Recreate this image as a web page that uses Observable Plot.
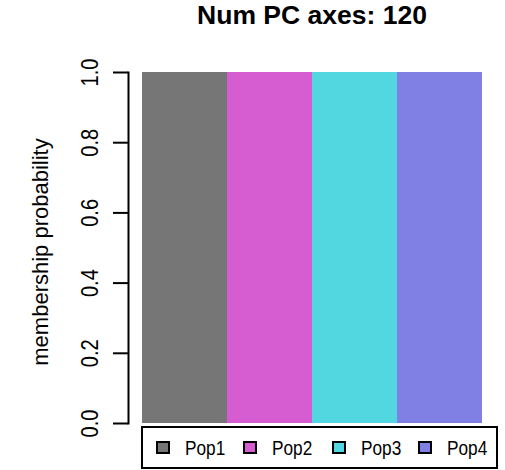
<!DOCTYPE html>
<html>
<head>
<meta charset="utf-8">
<script src="https://cdn.jsdelivr.net/npm/d3@7"></script>
<script src="https://cdn.jsdelivr.net/npm/@observablehq/plot@0.6"></script>
<style>
  html, body { margin: 0; padding: 0; background: #fff; }
  #wrap { position: relative; width: 505px; height: 470px; font-family: "Liberation Sans", Arial, sans-serif; }
  #title { position: absolute; left: 141px; width: 342px; top: -1px; text-align: center; font-weight: bold; font-size: 26.5px; line-height: 32px; color: #000; }
  #legend { position: absolute; left: 141px; top: 426px; width: 353px; height: 39px; border: 2px solid #000; }
  .item { position: absolute; top: 0; height: 39px; display: flex; align-items: center; font-size: 21px; color: #000; }
  .item span { display: inline-block; transform: scaleX(0.82); transform-origin: left center; }
  .sw { width: 10px; height: 9px; border: 2.5px solid #000; margin-right: 15px; }
  svg { position: absolute; left: 0; top: 0; }
</style>
</head>
<body>
<div id="wrap">
  <div id="title">Num PC axes: 120</div>
  <div id="legend"></div>
</div>
<script>
// Groups (one bar each) and populations (stacked segments)
const groups = ["Pop1", "Pop2", "Pop3", "Pop4"];
const pops = ["Pop1", "Pop2", "Pop3", "Pop4"];
const colors = ["#767676", "#D65CD1", "#52D6E0", "#807FE3"];
// Membership probability of each group (rows) for each population (columns)
const membership = [
  [1, 0, 0, 0],
  [0, 1, 0, 0],
  [0, 0, 1, 0],
  [0, 0, 0, 1]
];
const yTicks = [0, 0.2, 0.4, 0.6, 0.8, 1.0];
const yLabel = "membership probability";

const rows = groups.flatMap((g, i) => pops.map((p, j) => ({group: g, pop: p, prob: membership[i][j]})));
const fmt = d3.format(".1f");
const tickLabels = yTicks.map(fmt);

const chart = Plot.plot({
  width: 505,
  height: 470,
  marginTop: 72,
  marginBottom: 47,
  marginLeft: 128,
  marginRight: 22,
  style: {fontFamily: "Liberation Sans, Arial, sans-serif", background: "transparent"},
  x: {domain: groups, padding: 0, insetLeft: 13, axis: null},
  y: {domain: [0, 1], axis: null},
  color: {domain: pops, range: colors},
  marks: [
    Plot.barY(rows, Plot.stackY({x: "group", y: "prob", fill: "pop", order: pops})),
    // axis: line, ticks, rotated tick labels, rotated title
    Plot.frame({anchor: "left", stroke: "#000", strokeWidth: 2, strokeLinecap: "square"}),
    Plot.axisY({ticks: yTicks, tickSize: 15, tickFormat: () => "", label: null, stroke: "#000", strokeWidth: 2}),
    Plot.text(yTicks, {
      y: d => d, text: d => fmt(d), frameAnchor: "left", dx: -31,
      rotate: -90, textAnchor: "middle", lineAnchor: "bottom", fontSize: 24.5, fill: "#000"
    }),
    Plot.text([yLabel], {
      text: d => d, frameAnchor: "left", dx: -81, dy: 4,
      rotate: -90, textAnchor: "middle", lineAnchor: "bottom", fontSize: 22, fill: "#000"
    })
  ]
});
// condensed tick label glyphs
d3.select(chart).selectAll("text")
  .filter(function() { return tickLabels.includes(this.textContent); })
  .attr("transform", function() { return (this.getAttribute("transform") || "") + " scale(0.82,1)"; });
document.getElementById("wrap").prepend(chart);

const legend = document.getElementById("legend");
const pos = [13, 100, 189, 275];
pops.forEach((p, i) => {
  const it = document.createElement("div");
  it.className = "item";
  it.style.left = pos[i] + "px";
  const sw = document.createElement("div");
  sw.className = "sw";
  sw.style.background = colors[i];
  const label = document.createElement("span");
  label.textContent = p;
  it.appendChild(sw);
  it.appendChild(label);
  legend.appendChild(it);
});
</script>
</body>
</html>
